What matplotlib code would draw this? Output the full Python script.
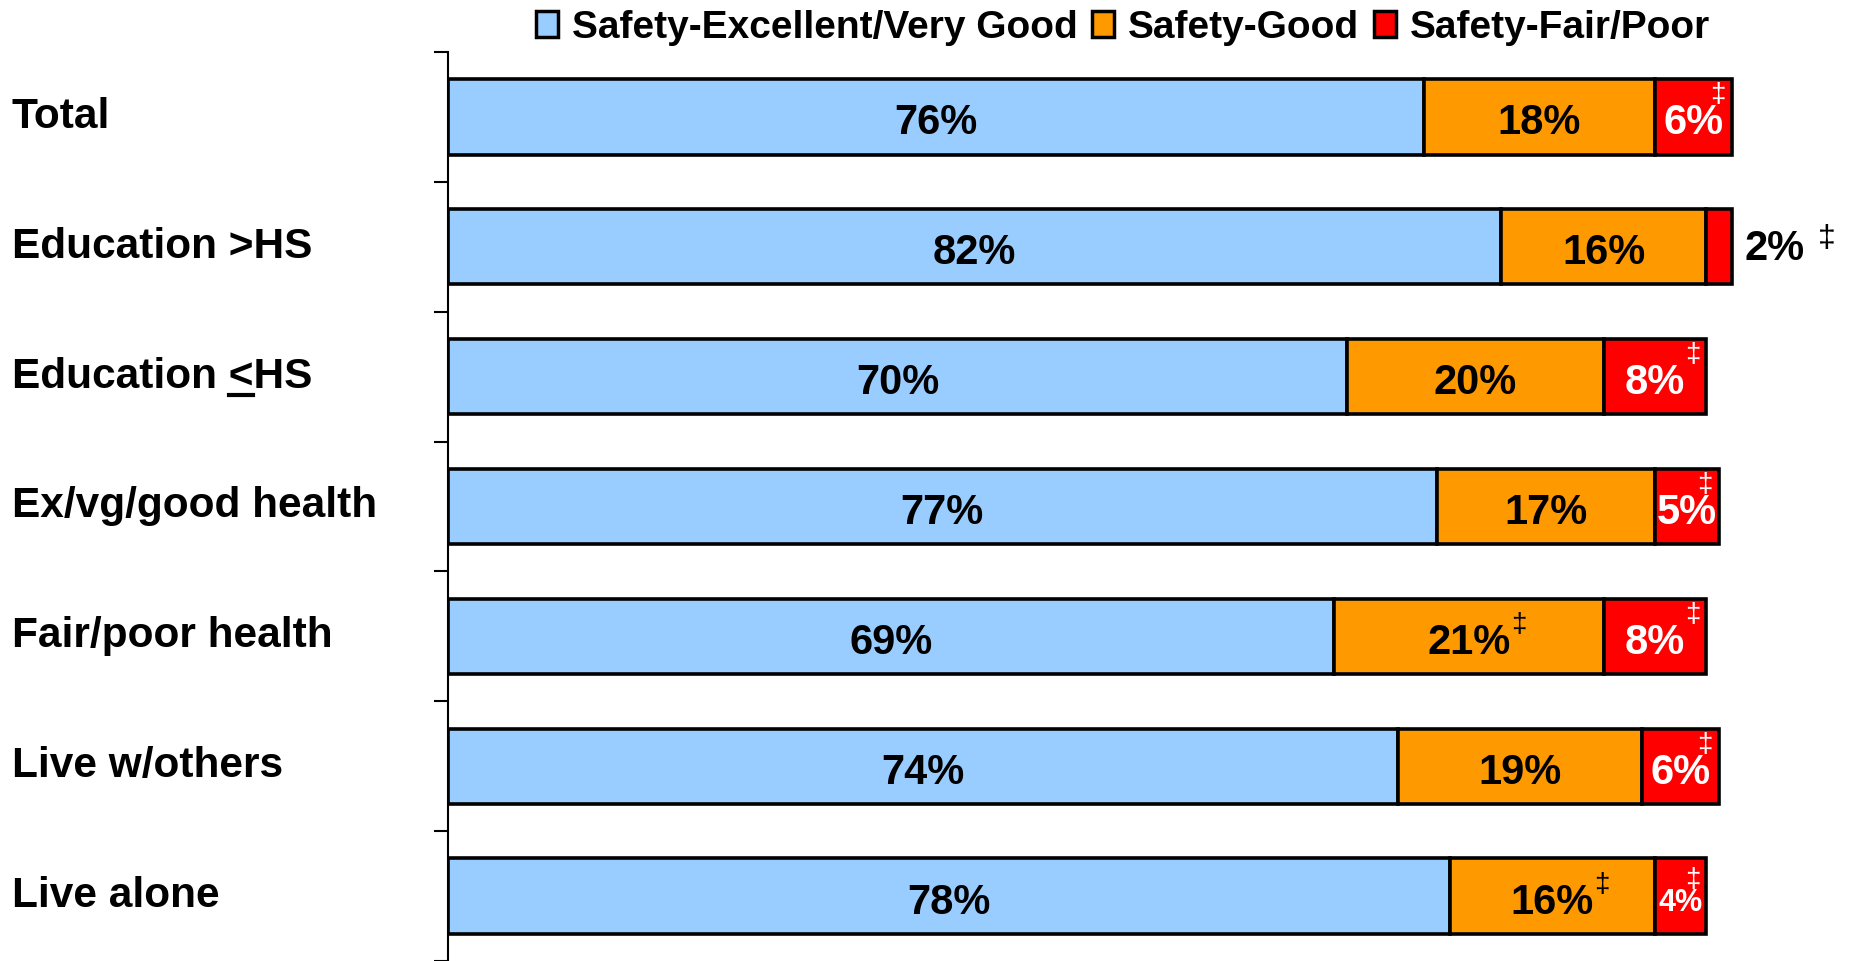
import matplotlib
matplotlib.use("Agg")
import matplotlib.pyplot as plt
import matplotlib.transforms as mtransforms
from matplotlib.lines import Line2D
from matplotlib.patches import Patch

plt.rcParams["font.family"] = ["Liberation Sans", "DejaVu Sans"]
plt.rcParams["font.weight"] = "bold"

categories = ["Total", "Education >HS", "Education <HS", "Ex/vg/good health",
              "Fair/poor health", "Live w/others", "Live alone"]
excellent = [76, 82, 70, 77, 69, 74, 78]
good = [18, 16, 20, 17, 21, 19, 16]
fair_poor = [6, 2, 8, 5, 8, 6, 4]
# significance marks (double dagger) per segment
good_mark = [False, False, False, False, True, False, True]
fair_mark = [True, True, True, True, True, True, True]
series_names = ["Safety-Excellent/Very Good", "Safety-Good", "Safety-Fair/Poor"]
colors = ["#99CCFF", "#FF9900", "#FF0000"]
text_colors = ["black", "black", "white"]

W, H = 1850, 961
fig = plt.figure(figsize=(W / 100, H / 100), dpi=100)
ax = fig.add_axes([448 / W, 0, 1 - 448 / W, 1 - 52 / H])

n = len(categories)
ypos = list(range(n))
series = [excellent, good, fair_poor]
marks = [[False] * n, good_mark, fair_mark]

left = [0] * n
seg_texts = []  # (text, bar_end, row, colour)
for vals, col, tcol, mk in zip(series, colors, text_colors, marks):
    ax.barh(ypos, vals, left=left, height=0.58, color=col,
            edgecolor="black", linewidth=2.6, zorder=2)
    for i, v in enumerate(vals):
        end = left[i] + v
        if v < 3:
            t = ax.text(end, i + 0.02, f"{v}%", ha="left", va="center",
                        fontsize=30, color="black", zorder=3)
            t.set_transform(ax.transData + mtransforms.ScaledTranslation(
                13 / 100, 0, fig.dpi_scale_trans))
            t._outside = True
        else:
            fs = 22 if v < 5 else 30
            t = ax.text(left[i] + v / 2, i + 0.05, f"{v}%", ha="center",
                        va="center", fontsize=fs, color=tcol, zorder=3)
            t._outside = False
        if mk[i]:
            seg_texts.append((t, end, i, t.get_color()))
    left = [l + v for l, v in zip(left, vals)]

ax.set_xlim(0, 1402 / 12.84)
ax.set_ylim(n - 0.5, -0.5)
ax.set_xticks([])
ax.set_yticks([k - 0.5 for k in range(n + 1)])
ax.set_yticklabels([])
ax.tick_params(axis="y", length=10, width=1.5, direction="out")
for s in ["top", "right", "bottom"]:
    ax.spines[s].set_visible(False)
ax.spines["left"].set_linewidth(1.5)

# category labels at the left edge of the figure
trans = mtransforms.blended_transform_factory(fig.transFigure, ax.transData)
cat_texts = []
for i, c in enumerate(categories):
    cat_texts.append(ax.text(12 / W, i, c, transform=trans, ha="left",
                             va="center", fontsize=30.5, clip_on=False))

handles = [Patch(facecolor=c, edgecolor="black", linewidth=2.5) for c in colors]
fig.legend(handles, series_names, loc="center", bbox_to_anchor=(0.607, 0.971),
           ncol=3, frameon=False, fontsize=28, handlelength=0.56,
           handleheight=0.64, handletextpad=0.37, columnspacing=0.37)

fig.canvas.draw()
r = fig.canvas.get_renderer()

# double dagger marks
for t, end, i, tcol in seg_texts:
    bb = t.get_window_extent(r)
    if t._outside:
        x = bb.x1 + 22
        y = bb.y1 - 10
        fs = 23
        tc = "black"
    else:
        bar_end = ax.transData.transform((end, i))[0]
        x = bb.x1 + 8
        y = bb.y1 - 2
        if x > bar_end - 14:
            x = bar_end - 14
            y = bb.y1 + 8
        fs = 20
        tc = tcol
    fig.text(x / W, y / H, "\u2021", ha="center", va="center", fontsize=fs,
             color=tc, weight="normal")

# underline the "<" of "Education <HS"
lab = cat_texts[2]
bb = lab.get_window_extent(r)
tmp1 = fig.text(0, 0, "Education <", fontsize=30.5)
tmp2 = fig.text(0, 0, "<", fontsize=30.5)
w_pre = tmp1.get_window_extent(r).width
w_lt = tmp2.get_window_extent(r).width
tmp1.remove()
tmp2.remove()
x1 = bb.x0 + w_pre
x0 = x1 - w_lt
yl = bb.y0 + 2
fig.add_artist(Line2D([x0 / W, x1 / W], [yl / H, yl / H], color="black",
                      linewidth=3, transform=fig.transFigure))

fig.savefig("out.png", dpi=100)
